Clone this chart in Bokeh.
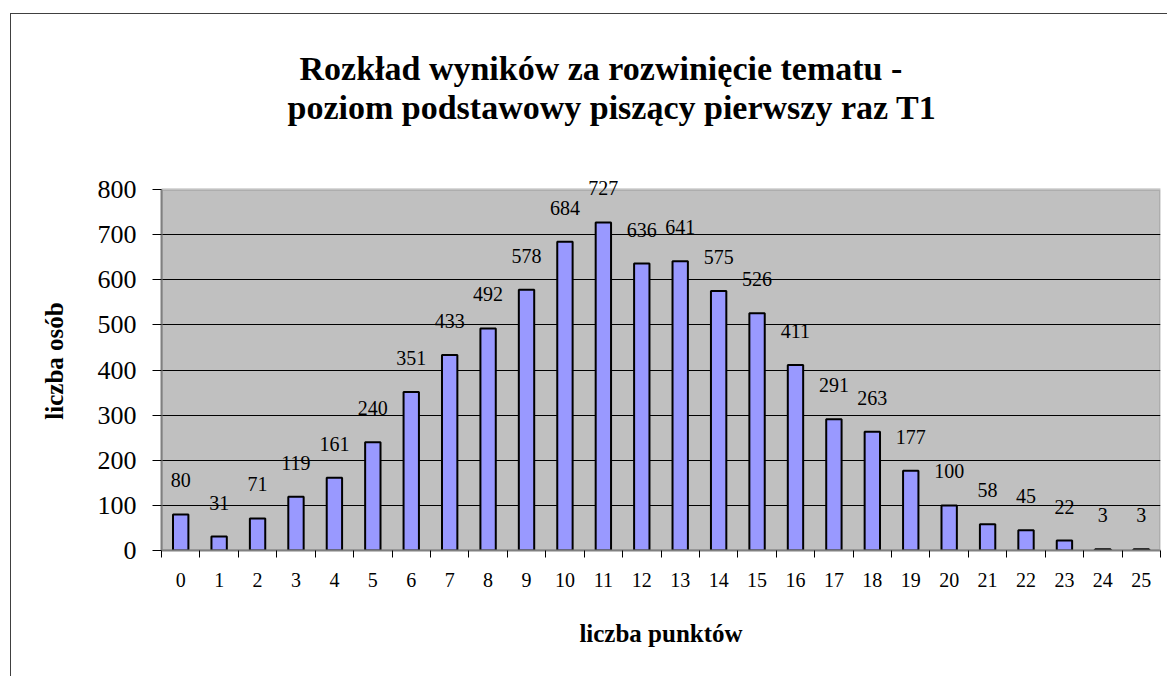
from bokeh.plotting import figure
from bokeh.models import (ColumnDataSource, FixedTicker, Range1d, LabelSet, Title,
                          BoxAnnotation)
from bokeh.embed import file_html
from bokeh.resources import INLINE

points = list(range(26))
counts = [80, 31, 71, 119, 161, 240, 351, 433, 492, 578, 684, 727, 636, 641,
          575, 526, 411, 291, 263, 177, 100, 58, 45, 22, 3, 3]
y_ticks = [0, 100, 200, 300, 400, 500, 600, 700, 800]
title_lines = ["Rozkład wyników za rozwinięcie tematu -",
               "poziom podstawowy piszący pierwszy raz T1"]
x_title = "liczba punktów"
y_title = "liczba osób"

FONT = "Times"
Y_MAX = 800

src = ColumnDataSource(dict(x=points, y=counts, lab=[str(c) for c in counts]))

p = figure(width=1157, height=663, output_backend="svg", toolbar_location=None,
           x_range=Range1d(-0.5, 25.5), y_range=Range1d(0, Y_MAX * 379 / 361),
           min_border_left=150, min_border_right=8, min_border_top=157,
           min_border_bottom=127)
p.background_fill_color = "white"
p.border_fill_color = "white"
p.outline_line_color = None

plot_area = BoxAnnotation(bottom=0, top=Y_MAX, fill_color="#C0C0C0", fill_alpha=1,
                          line_color="#808080", line_width=3, level="image")
p.add_layout(plot_area)

p.vbar(x="x", top="y", width=0.4, source=src, fill_color="#9999FF",
       line_color="black", line_width=2)

labels = LabelSet(x="x", y="y", text="lab", source=src, y_offset=27,
                  text_align="center", text_baseline="bottom",
                  text_font=FONT, text_font_size="20px", text_color="black")
p.add_layout(labels)

# axes
p.xaxis.ticker = FixedTicker(ticks=points, minor_ticks=[i - 0.5 for i in range(27)])
p.xaxis.major_tick_out = 0
p.xaxis.major_tick_in = 0
p.xaxis.minor_tick_out = 7
p.xaxis.minor_tick_in = 0
p.xaxis.minor_tick_line_color = "black"
p.xaxis.axis_line_color = "#808080"
p.xaxis.axis_line_width = 2
p.xaxis.major_label_text_font = FONT
p.xaxis.major_label_text_font_size = "20px"
p.xaxis.major_label_text_color = "black"
p.xaxis.major_label_standoff = 15
p.xaxis.axis_label = x_title
p.xaxis.axis_label_text_font = FONT
p.xaxis.axis_label_text_font_style = "bold"
p.xaxis.axis_label_text_font_size = "25px"
p.xaxis.axis_label_text_color = "black"
p.xaxis.axis_label_standoff = 30

p.yaxis.ticker = FixedTicker(ticks=y_ticks)
p.yaxis.bounds = (0, Y_MAX)
p.yaxis.minor_tick_line_color = None
p.yaxis.major_tick_out = 9
p.yaxis.major_tick_in = 0
p.yaxis.major_tick_line_color = "black"
p.yaxis.axis_line_color = "#808080"
p.yaxis.axis_line_width = 2
p.yaxis.major_label_text_font = FONT
p.yaxis.major_label_text_font_size = "26px"
p.yaxis.major_label_text_color = "black"
p.yaxis.major_label_standoff = 16
p.yaxis.axis_label = y_title
p.yaxis.axis_label_text_font = FONT
p.yaxis.axis_label_text_font_style = "bold"
p.yaxis.axis_label_text_font_size = "25px"
p.yaxis.axis_label_text_color = "black"
p.yaxis.axis_label_standoff = 27

p.xgrid.grid_line_color = None
p.ygrid.ticker = FixedTicker(ticks=y_ticks[1:-1])
p.ygrid.grid_line_color = "black"
p.ygrid.grid_line_width = 1

# title: spacer + two centred lines
p.title.visible = False
spacer = Title(text=" ", text_font_size="10px", standoff=33)
t2 = Title(text=title_lines[1], align="left", offset=126, standoff=0,
           text_font=FONT, text_font_size="34px", text_font_style="bold",
           text_color="black")
t1 = Title(text=title_lines[0], align="left", offset=138, standoff=0,
           text_font=FONT, text_font_size="34px", text_font_style="bold",
           text_color="black")
p.add_layout(spacer, "above")
p.add_layout(t2, "above")
p.add_layout(t1, "above")

p.styles = {"border-left": "1px solid #404040", "border-top": "1px solid #404040",
            "margin-left": "10px", "margin-top": "13px"}

open("out.html", "w").write(file_html(p, INLINE))
